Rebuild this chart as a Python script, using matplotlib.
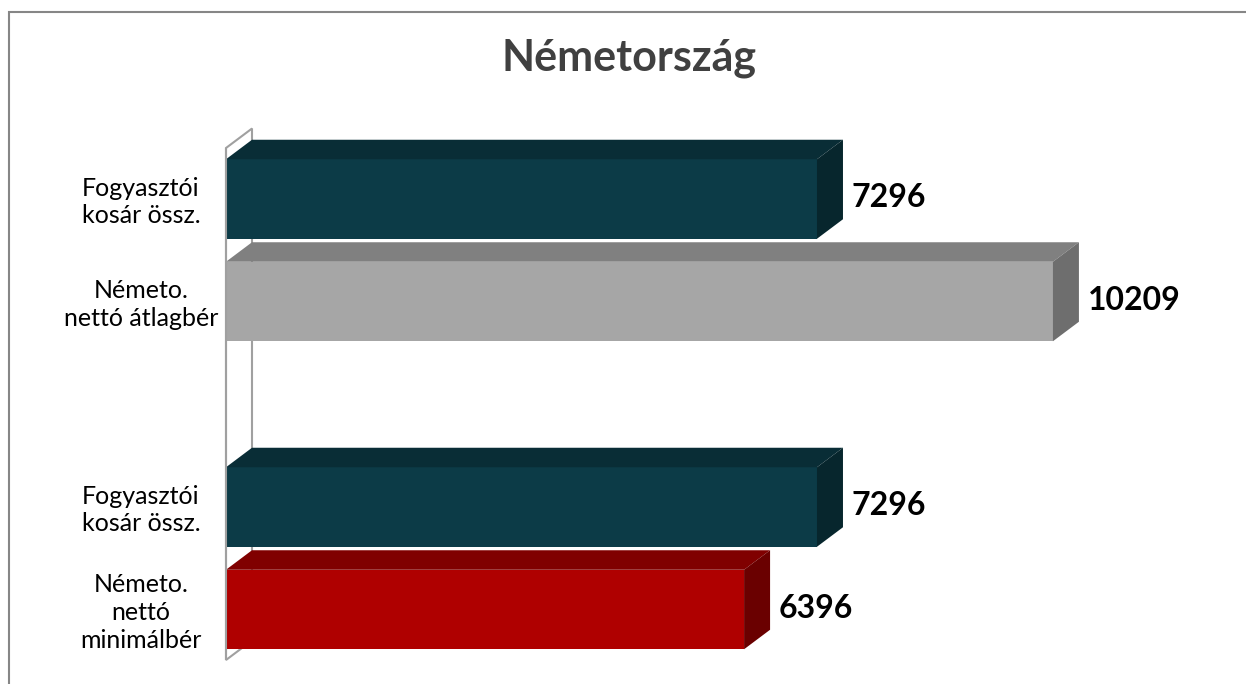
import matplotlib.pyplot as plt
from matplotlib.patches import Polygon, Rectangle
import matplotlib.transforms as mtransforms

plt.rcParams['font.family'] = ['Lato', 'DejaVu Sans']

# data
labels = ["Fogyasztói\nkosár össz.", "Németo.\nnettó átlagbér",
          "Fogyasztói\nkosár össz.", "Németo.\nnettó\nminimálbér"]
values = [7296, 10209, 7296, 6396]
groups = [0, 0, 1, 1]
slots = [0, 1, 0, 1]

# colours (front, top, side)
teal = ("#0c3b47", "#092d36", "#07262d")
grey = ("#a6a6a6", "#808080", "#6e6e6e")
red = ("#af0000", "#800000", "#6a0000")
bar_colors = [teal, grey, teal, red]

W, H = 1246, 684
fig = plt.figure(figsize=(W / 100, H / 100), dpi=100)
ax = fig.add_axes([0, 0, 1, 1])

# pixel layout -> data limits
x0_px, xscale = 226, 0.0810          # px per unit
y0_px, yscale = 250.25, 308.0        # px per category
ax.set_xlim(-x0_px / xscale, (W - x0_px) / xscale)
ax.set_ylim((H - y0_px) / yscale, -y0_px / yscale)
ax.axis('off')

dx = 26 / xscale      # depth, x
dy = 19.5 / yscale    # depth, y
bar_h = 79.5 / yscale
slot_gap = 102.5 / yscale

# side wall
wall_top = (148 - y0_px) / yscale
wall_bot = (660 - y0_px) / yscale
ax.add_patch(Polygon([(0, wall_bot), (0, wall_top), (dx, wall_top - dy), (dx, wall_bot - dy)],
                     closed=True, facecolor='white', edgecolor='#a0a0a0', lw=1.5, zorder=1))

trans = mtransforms.blended_transform_factory(fig.transFigure, ax.transData)
for lab, v, g, s, cols in zip(labels, values, groups, slots, bar_colors):
    yc = g + (s - 0.5) * slot_gap
    top = yc - bar_h / 2
    bot = yc + bar_h / 2
    front, topc, side = cols
    ax.add_patch(Rectangle((0, top), v, bar_h, facecolor=front, edgecolor='none', zorder=3))
    ax.add_patch(Polygon([(0, top), (v, top), (v + dx, top - dy), (dx, top - dy)],
                         closed=True, facecolor=topc, edgecolor='none', zorder=3))
    ax.add_patch(Polygon([(v, top), (v + dx, top - dy), (v + dx, bot - dy), (v, bot)],
                         closed=True, facecolor=side, edgecolor='none', zorder=3))
    ax.text(v + dx + 9 / xscale, yc - 1.5 / yscale, str(v), fontsize=23, fontweight='bold',
            color='black', ha='left', va='center', zorder=5)
    ax.text(141 / W, yc + 3 / yscale, lab, transform=trans, fontsize=18, ha='center',
            va='center', multialignment='center', linespacing=1.25, color='black')

# wall front edge
ax.plot([0, 0], [wall_top, wall_bot], color='#a0a0a0', lw=1.5, zorder=4, solid_capstyle='butt')

fig.text(629 / W, 1 - 70 / H, "Németország", fontsize=31, fontweight='bold',
         color='#404040', ha='center', va='baseline')

# chart border
fig.patches.append(Rectangle((8.5 / W, -0.05), 1.1, 1 - 11.5 / H + 0.05, transform=fig.transFigure,
                             fill=False, edgecolor='#868686', lw=1.5))

fig.savefig('out.png', dpi=100)
